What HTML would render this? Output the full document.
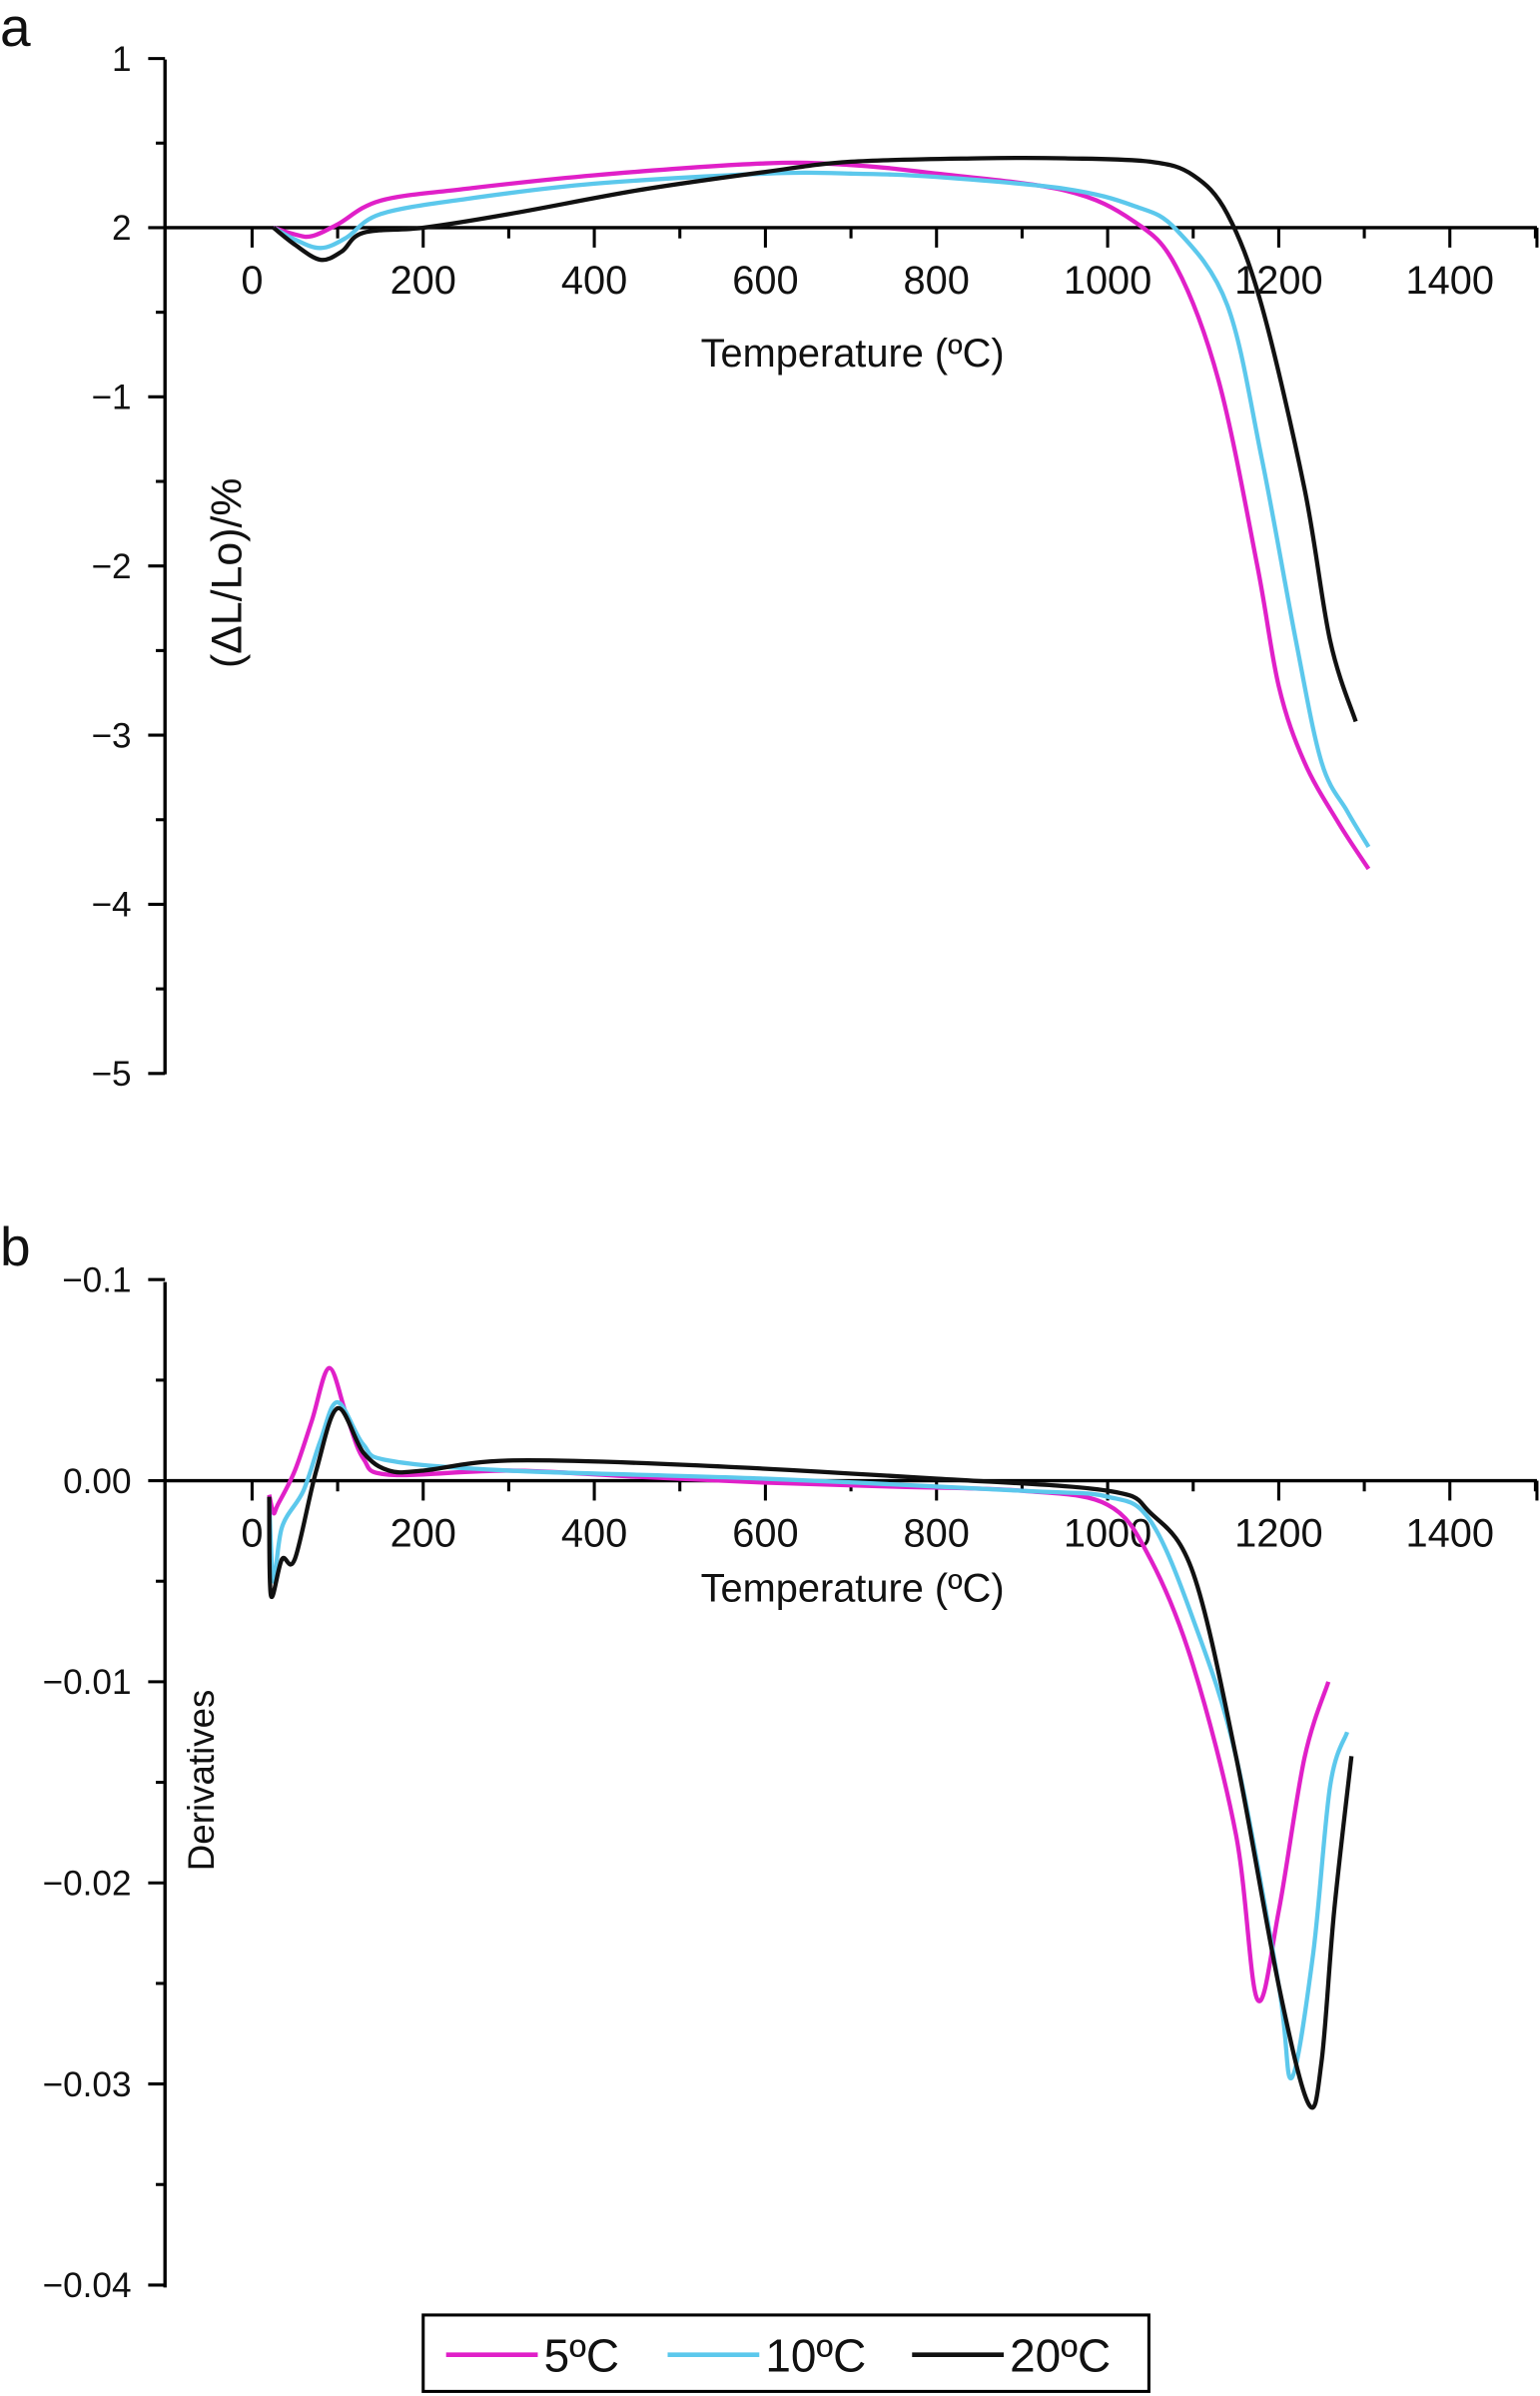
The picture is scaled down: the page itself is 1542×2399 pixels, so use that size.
<!DOCTYPE html>
<html><head><meta charset="utf-8"><style>
html,body{margin:0;padding:0;background:#fff;}
svg{display:block;}
text{font-family:"Liberation Sans",Arial,sans-serif;fill:#111;}
</style></head><body>
<svg id="chart" width="1542" height="2399" viewBox="0 0 1008 1568" preserveAspectRatio="none" xmlns="http://www.w3.org/2000/svg">
<g id="pa"></g>
<g id="pb"></g>
<g id="legend"></g>
</svg>
<script>
// Shared x ticks
const xTicks = [0,200,400,600,800,1000,1200,1400];
const seriesNames = ["5ºC","10ºC","20ºC"];
const seriesColors = ["#e020c8","#5cc8ec","#111111"];

// Panel a data: temperature (ºC) and ΔL/Lo (%)
const aT5 = [25,50,70,100,150,250,400,600,700,800,950,1030,1080,1130,1175,1200,1230,1270,1305];
const aV5 = [0,-0.04,-0.05,0.02,0.16,0.23,0.31,0.38,0.37,0.32,0.22,0.04,-0.23,-0.91,-2.0,-2.71,-3.16,-3.52,-3.79];
const aT10 = [25,50,80,110,150,250,400,600,700,800,950,1030,1080,1140,1180,1220,1250,1280,1305];
const aV10 = [0,-0.07,-0.12,-0.06,0.08,0.17,0.26,0.32,0.32,0.30,0.23,0.13,-0.01,-0.46,-1.36,-2.44,-3.16,-3.45,-3.66];
const aT20 = [25,50,80,105,130,200,300,450,600,700,850,950,1050,1100,1140,1180,1230,1260,1290];
const aV20 = [0,-0.1,-0.19,-0.14,-0.03,0,0.08,0.22,0.33,0.39,0.41,0.41,0.39,0.31,0.08,-0.46,-1.54,-2.44,-2.92];
const aYTicks = [1,0,-1,-2,-3,-4,-5];
const aYLabels = ["1","2","−1","−2","−3","−4","−5"];

// Panel b data: derivatives
const bT5 = [20,25,30,50,70,90,110,130,160,300,450,600,750,900,1000,1050,1100,1150,1175,1200,1230,1258];
const bV5 = [-0.0007,-0.0016,-0.0012,0.0005,0.003,0.0056,0.0033,0.0011,0.0003,0.0005,0.0002,-0.0001,-0.0003,-0.0005,-0.0012,-0.0039,-0.0092,-0.0176,-0.0258,-0.0214,-0.0138,-0.010];
const bT10 = [20,25,35,60,80,100,130,160,300,600,900,1000,1050,1100,1150,1200,1215,1240,1260,1280];
const bV10 = [-0.001,-0.005,-0.0023,-0.0005,0.002,0.0039,0.0018,0.001,0.0005,0.0001,-0.0005,-0.0008,-0.0020,-0.0069,-0.0137,-0.0251,-0.0297,-0.0236,-0.0152,-0.0125];
const bT20 = [20,22,35,50,75,100,130,160,200,300,500,800,1000,1050,1100,1150,1200,1235,1250,1265,1285];
const bV20 = [-0.0008,-0.0057,-0.0039,-0.0039,0.0005,0.0036,0.0014,0.0005,0.0005,0.001,0.0008,0.0001,-0.0005,-0.0016,-0.0046,-0.0137,-0.0251,-0.0310,-0.0289,-0.0213,-0.0137];
const bYTicks = [0.01,0,-0.01,-0.02,-0.03,-0.04];
const bYLabels = ["−0.1","0.00","−0.01","−0.02","−0.03","−0.04"];

const NS="http://www.w3.org/2000/svg";
function mk(tag,attrs,parent){const e=document.createElementNS(NS,tag);for(const k in attrs)e.setAttribute(k,attrs[k]);parent.appendChild(e);return e;}
const xScale = t => 165 + t*0.56;

function smoothPath(pts){
  let d='M'+pts[0][0].toFixed(1)+','+pts[0][1].toFixed(1);
  for(let i=0;i<pts.length-1;i++){
    const p0=pts[Math.max(i-1,0)],p1=pts[i],p2=pts[i+1],p3=pts[Math.min(i+2,pts.length-1)];
    const c1=[p1[0]+(p2[0]-p0[0])/6,p1[1]+(p2[1]-p0[1])/6];
    const c2=[p2[0]-(p3[0]-p1[0])/6,p2[1]-(p3[1]-p1[1])/6];
    d+=` C${c1[0].toFixed(1)},${c1[1].toFixed(1)} ${c2[0].toFixed(1)},${c2[1].toFixed(1)} ${p2[0].toFixed(1)},${p2[1].toFixed(1)}`;
  }
  return d;
}

function panel(g, yOf, yTicks, yLabels, yMinorStep, yTop, yBot, x0y, letter, letterY, ylabel, ylabelPos, tempY, series){
  const L = mk('text',{x:0,y:letterY,'font-size':36},g);
  
  
  L.textContent=letter;
  const ya = mk('line',{x1:108,y1:yTop,x2:108,y2:yBot,stroke:'#000','stroke-width':2.2},g);
  
  
  yTicks.forEach((v,i)=>{
    const y=yOf(v);
    mk('line',{x1:97,y1:y,x2:108,y2:y,stroke:'#000','stroke-width':2},g);
    const t=mk('text',{x:86,y:y+8,'font-size':23,'text-anchor':'end'},g);
    
    
    t.textContent=yLabels[i];
    if(i<yTicks.length-1){const ym=yOf(v-yMinorStep);mk('line',{x1:102,y1:ym,x2:108,y2:ym,stroke:'#000','stroke-width':2},g);}
  });
  const xa = mk('line',{x1:108,y1:x0y,x2:1006,y2:x0y,stroke:'#000','stroke-width':2.2},g);
  
  
  xTicks.forEach(v=>{
    const x=xScale(v);
    mk('line',{x1:x,y1:x0y,x2:x,y2:x0y+13,stroke:'#000','stroke-width':2},g);
    mk('line',{x1:xScale(v+100),y1:x0y,x2:xScale(v+100),y2:x0y+7,stroke:'#000','stroke-width':2},g);
    const t=mk('text',{x:x,y:x0y+43,'font-size':26,'text-anchor':'middle'},g);
    
    
    t.textContent=v;
  });
  mk('line',{x1:1006,y1:x0y,x2:1006,y2:x0y+13,stroke:'#000','stroke-width':2},g);
  const xt=mk('text',{x:558,y:tempY,'font-size':26,'text-anchor':'middle'},g);
  
  
  xt.textContent='Temperature (ºC)';
  const yt=mk('text',{x:ylabelPos[0],y:ylabelPos[1],'font-size':ylabelPos[2],'text-anchor':'middle',transform:`rotate(-90 ${ylabelPos[0]} ${ylabelPos[1]})`},g);
  
  
  yt.textContent=ylabel;
  series.forEach((s,i)=>{
    const pts=s[0].map((t,j)=>[xScale(t),yOf(s[1][j])]);
    const p=mk('path',{d:smoothPath(pts),fill:'none',stroke:seriesColors[i],'stroke-width':2.8,'stroke-linejoin':'round'},g);
    
    
  });
}
const ya = v => 149 - v*110.7;
panel(document.getElementById('pa'), ya, aYTicks, aYLabels, 0.5, 39, 703, 149, 'a', 30, '(ΔL/Lo)/%', [158,375,28], 240,
  [[aT5,aV5],[aT10,aV10],[aT20,aV20]]);
const yb = v => 969 - v*13160;
panel(document.getElementById('pb'), yb, bYTicks, bYLabels, 0.005, 839, 1497, 969, 'b', 828, 'Derivatives', [140,1165,24], 1048,
  [[bT5,bV5],[bT10,bV10],[bT20,bV20]]);

// legend
const lg=document.getElementById('legend');
mk('rect',{x:277,y:1515,width:475,height:50,fill:'#fff',stroke:'#000','stroke-width':2},lg);
const lx=[292,437,597];
seriesNames.forEach((n,i)=>{
  const e=mk('g',{},lg);
  
  
  mk('line',{x1:lx[i],y1:1541,x2:lx[i]+60,y2:1541,stroke:seriesColors[i],'stroke-width':3},e);
  const t=mk('text',{x:lx[i]+64,y:1552,'font-size':30},e);
  t.textContent=n;
});
</script>
</body></html>
